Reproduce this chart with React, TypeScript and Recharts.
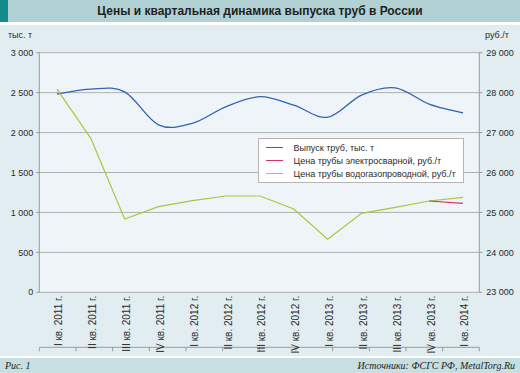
import React from 'react';
import { LineChart, Line, XAxis, YAxis, CartesianGrid, Legend } from 'recharts';

const quarters = [
  'I кв. 2011 г.', 'II кв. 2011 г.', 'III кв. 2011 г.', 'IV кв. 2011 г.',
  'I кв. 2012 г.', 'II кв. 2012 г.', 'III кв. 2012 г.', 'IV кв. 2012 г.',
  'I кв. 2013 г.', 'II кв. 2013 г.', 'III кв. 2013 г.', 'IV кв. 2013 г.',
  'I кв. 2014 г.',
];
const output = [2483, 2545, 2510, 2097, 2116, 2326, 2449, 2343, 2192, 2470, 2560, 2357, 2245];
const priceWelded: (number | null)[] = [null, null, null, null, null, null, null, null, null, null, null, 25286, 25229];
const priceWaterGas = [28090, 26856, 24836, 25144, 25294, 25412, 25412, 25086, 24327, 24978, 25128, 25286, 25379];

const leftTicks = [0, 500, 1000, 1500, 2000, 2500, 3000];
const rightTicks = [23000, 24000, 25000, 26000, 27000, 28000, 29000];
const tickMarks = [0, 1, 2, 3, 4, 5, 6, 7, 8, 9, 10, 11, 12];

const seriesNames = ['Выпуск труб, тыс. т', 'Цена трубы электросварной, руб./т', 'Цена трубы водогазопроводной, руб./т'];
const seriesColors = ['#3164b4', '#d9306e', '#a6c93c'];

const data = quarters.map((q, i) => ({
  i,
  q,
  output: output[i],
  welded: priceWelded[i],
  waterGas: priceWaterGas[i],
}));

const fmt = (n: number) => {
  if (n < 1000) return String(n);
  return `${Math.floor(n / 1000)} ${String(n % 1000).padStart(3, '0')}`;
};

const smoothCurve: any = (context: any) => {
  let pts: [number, number][] = [];
  return {
    areaStart() {},
    areaEnd() {},
    lineStart() { pts = []; },
    lineEnd() {
      const n = pts.length;
      if (!n) return;
      context.moveTo(pts[0][0], pts[0][1]);
      for (let k = 0; k < n - 1; k++) {
        const p0 = pts[k - 1] || pts[k];
        const p1 = pts[k];
        const p2 = pts[k + 1];
        const p3 = pts[k + 2] || p2;
        context.bezierCurveTo(
          p1[0] + (p2[0] - p0[0]) / 6, p1[1] + (p2[1] - p0[1]) / 6,
          p2[0] - (p3[0] - p1[0]) / 6, p2[1] - (p3[1] - p1[1]) / 6,
          p2[0], p2[1]
        );
      }
    },
    point(x: number, y: number) { pts.push([+x, +y]); },
  };
};

const FONT = '"Liberation Sans", Arial, sans-serif';
const SERIF = '"Liberation Serif", "Times New Roman", serif';

const QuarterTick = (props: any) => {
  const { x, y, payload } = props;
  return (
    <text
      x={x}
      y={y}
      transform={`rotate(-90 ${x} ${y})`}
      textAnchor="end"
      dy="0.55em"
      fontSize={10}
      fontFamily={FONT}
      fill="#2a2a2a"
    >
      {quarters[payload.value]}
    </text>
  );
};

const LeftTick = (props: any) => {
  const { x, y, payload } = props;
  return (
    <text x={x} y={y} textAnchor="end" dy="0.35em" fontSize={9} fontFamily={FONT} fill="#2a2a2a">
      {fmt(payload.value)}
    </text>
  );
};

const RightTick = (props: any) => {
  const { x, y, payload } = props;
  return (
    <text x={x} y={y} textAnchor="start" dy="0.35em" fontSize={9} fontFamily={FONT} fill="#2a2a2a">
      {fmt(payload.value)}
    </text>
  );
};

const LegendBox = () => (
  <div
    style={{
      width: 206,
      height: 45,
      boxSizing: 'border-box',
      background: '#ffffff',
      border: '1px solid #b5b5b5',
      paddingTop: 2,
      fontFamily: FONT,
      fontSize: 9,
      color: '#2a2a2a',
    }}
  >
    {seriesNames.map((name, k) => (
      <div key={name} style={{ height: 13, display: 'flex', alignItems: 'center' }}>
        <div style={{ width: 17, height: 1.2, background: seriesColors[k], marginLeft: 7, marginRight: 11 }} />
        <span style={{ whiteSpace: 'nowrap' }}>{name}</span>
      </div>
    ))}
  </div>
);

export default function App() {
  return (
    <div style={{ position: 'absolute', left: 0, top: 0, width: 520, height: 373, background: '#e1edf0', overflow: 'hidden' }}>
      <div style={{ position: 'absolute', left: 0, top: 0, width: 520, height: 22, background: '#b1d1d4' }} />
      <div style={{ position: 'absolute', left: 0, top: 0, width: 8, height: 22, background: '#138a8c' }} />
      <div style={{ position: 'absolute', left: 0, top: 22, width: 520, height: 3, background: '#ffffff' }} />
      <div
        style={{
          position: 'absolute', left: 0, top: 0, width: 520, height: 22, lineHeight: '23px',
          textAlign: 'center', fontFamily: FONT, fontWeight: 'bold', fontSize: 12, color: '#1f1f1f',
        }}
      >
        Цены и квартальная динамика выпуска труб в России
      </div>
      <div style={{ position: 'absolute', left: 0, top: 356, width: 520, height: 2, background: '#ffffff' }} />
      <div style={{ position: 'absolute', left: 0, top: 358, width: 520, height: 15, background: '#c8dfe1' }} />
      <div style={{ position: 'absolute', left: 5, top: 358, height: 15, lineHeight: '15px', fontFamily: SERIF, fontStyle: 'italic', fontSize: 10, color: '#222' }}>
        Рис. 1
      </div>
      <div style={{ position: 'absolute', right: 5, top: 358, height: 15, lineHeight: '15px', fontFamily: SERIF, fontStyle: 'italic', fontSize: 10, color: '#222', whiteSpace: 'nowrap' }}>
        Источники: ФСГС РФ, MetalTorg.Ru
      </div>
      <div style={{ position: 'absolute', left: 8, top: 30, lineHeight: '10px', fontFamily: FONT, fontSize: 9, color: '#2a2a2a' }}>тыс. т</div>
      <div style={{ position: 'absolute', left: 485, top: 30, lineHeight: '10px', fontFamily: FONT, fontSize: 9, color: '#2a2a2a' }}>руб./т</div>
      <div style={{ position: 'absolute', left: 0, top: 0 }}>
        <LineChart
          width={520}
          height={373}
          data={data}
          margin={{ top: 52.7, right: 10.7, left: 9.3, bottom: 20.7 }}
        >
          <CartesianGrid yAxisId="l" xAxisId="cat" vertical={false} stroke="#b0b0b0" fill="#eef4f7" fillOpacity={1} />
          <XAxis
            xAxisId="marks"
            type="number"
            domain={[0, 12]}
            ticks={tickMarks}
            height={5}
            tickSize={4}
            stroke="#9a9a9a"
            tick={() => <g />}
          />
          <XAxis
            xAxisId="cat"
            dataKey="i"
            type="number"
            domain={[-0.523, 12.482]}
            ticks={tickMarks}
            allowDataOverflow
            height={55}
            axisLine={false}
            tickLine={false}
            tickSize={0}
            tickMargin={3.5}
            interval={0}
            tick={<QuarterTick />}
          />
          <YAxis
            yAxisId="l"
            domain={[0, 3000]}
            ticks={leftTicks}
            width={30}
            tickSize={3}
            tickMargin={3}
            stroke="#9a9a9a"
            tick={<LeftTick />}
            interval={0}
          />
          <YAxis
            yAxisId="r"
            orientation="right"
            domain={[23000, 29000]}
            ticks={rightTicks}
            width={30}
            tickSize={3}
            tickMargin={4}
            stroke="#9a9a9a"
            tick={<RightTick />}
            interval={0}
          />
          <Legend
            layout="vertical"
            align="center"
            verticalAlign="middle"
            content={<LegendBox />}
            wrapperStyle={{ left: 257.5, top: 138, width: 206, height: 45 }}
          />
          <Line
            xAxisId="cat"
            yAxisId="l"
            dataKey="output"
            name={seriesNames[0]}
            stroke={seriesColors[0]}
            strokeWidth={1.3}
            type={smoothCurve}
            dot={false}
            activeDot={false}
            isAnimationActive={false}
          />
          <Line
            xAxisId="cat"
            yAxisId="r"
            dataKey="waterGas"
            name={seriesNames[2]}
            stroke={seriesColors[2]}
            strokeWidth={1.2}
            type="linear"
            dot={false}
            activeDot={false}
            isAnimationActive={false}
          />
          <Line
            xAxisId="cat"
            yAxisId="r"
            dataKey="welded"
            name={seriesNames[1]}
            stroke={seriesColors[1]}
            strokeWidth={1.2}
            type="linear"
            dot={false}
            activeDot={false}
            isAnimationActive={false}
          />
        </LineChart>
      </div>
    </div>
  );
}
